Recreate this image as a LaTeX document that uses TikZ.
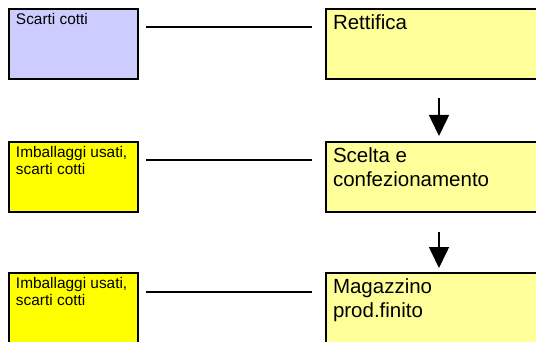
\documentclass[tikz,border=0pt]{standalone}
\usepackage{fontspec}
\setmainfont{Liberation Sans}
\usetikzlibrary{arrows.meta,calc}
\definecolor{wasteblue}{HTML}{CCCCFF}
\definecolor{wasteyellow}{HTML}{FFFF00}
\definecolor{stepyellow}{HTML}{FFFF99}
% top-aligned text blocks of fixed size for the two box kinds
\newcommand{\smalltxt}[1]{\parbox[t][61pt][t]{115pt}{\raggedright\fontsize{15.4}{16.5}\selectfont #1}}
\newcommand{\bigtxt}[1]{\parbox[t][59pt][t]{205pt}{\raggedright\fontsize{20.5}{24}\selectfont #1}}
\begin{document}
\begin{tikzpicture}[x=1pt,y=-1pt,
  boxbase/.style={draw=black, line width=1.8pt, anchor=north west, outer sep=0pt, inner xsep=7pt},
  wastebox/.style={boxbase, inner ysep=4.5pt},
  stepbox/.style={boxbase, fill=stepyellow, inner ysep=5.5pt},
  link/.style={line width=1.4pt},
  flow/.style={line width=1.6pt, -{Triangle[length=21pt,width=20pt]}}]
\useasboundingbox (0,0) rectangle (536,342);
\clip (0,0) rectangle (536,342);

% waste boxes (left column)
\node[wastebox, fill=wasteblue]   (w1) at (9,9)   {\smalltxt{Scarti cotti}};
\node[wastebox, fill=wasteyellow] (w2) at (9,142) {\smalltxt{Imballaggi usati,\\scarti cotti}};
\node[wastebox, fill=wasteyellow] (w3) at (9,273) {\smalltxt{Imballaggi usati,\\scarti cotti}};

% process steps (right column)
\node[stepbox] (s1) at (326,9)   {\bigtxt{Rettifica}};
\node[stepbox] (s2) at (326,142) {\bigtxt{Scelta e\\confezionamento}};
\node[stepbox] (s3) at (326,273) {\bigtxt{Magazzino\\prod.finito}};

% links between waste and step
\draw[link] ($(w1.north east)+(8,18)$) -- ($(s1.north west)+(-14,18)$);
\draw[link] ($(w2.north east)+(8,18)$) -- ($(s2.north west)+(-14,18)$);
\draw[link] ($(w3.north east)+(8,19)$) -- ($(s3.north west)+(-14,19)$);

% flow arrows
\draw[flow] ($(s1.south west)+(113,19)$) -- ($(s2.north west)+(113,-6)$);
\draw[flow] ($(s2.south west)+(113,20)$) -- ($(s3.north west)+(113,-5)$);
\end{tikzpicture}
\end{document}
